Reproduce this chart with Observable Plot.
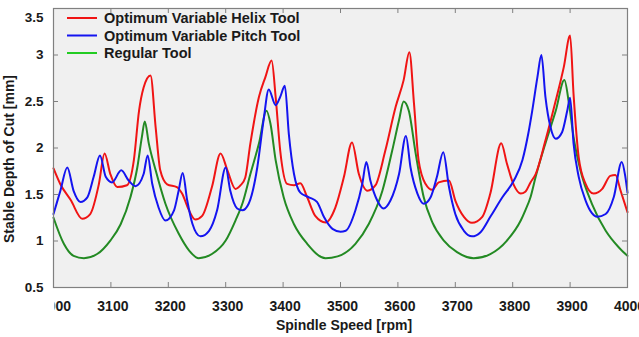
<!DOCTYPE html>
<html>
<head>
<meta charset="utf-8">
<script src="https://cdn.jsdelivr.net/npm/d3@7"></script>
<script src="https://cdn.jsdelivr.net/npm/@observablehq/plot@0.6"></script>
<style>
  html, body { margin: 0; padding: 0; background: #ffffff; }
  #chart { position: relative; width: 639px; height: 337px; }
</style>
</head>
<body>
<div id="chart"></div>
<script>
// Stability lobes: stable depth of cut versus spindle speed for three tools.
const helixRpm = [3000,3012,3030,3050,3064,3079,3089,3099,3111,3128,3140,3149,3157,3169,3178,3186,3198,3215,3224,3236,3247,3259,3276,3291,3303,3317,3326,3334,3343,3358,3369,3380,3387,3395,3407,3419,3430,3442,3456,3474,3491,3506,3520,3532,3547,3561,3578,3596,3610,3620,3628,3636,3648,3660,3671,3689,3700,3715,3729,3747,3761,3780,3790,3802,3814,3822,3831,3840,3857,3875,3889,3900,3906,3915,3927,3941,3956,3970,3979,3988,4000];
const helixDepth = [1.78,1.61,1.44,1.24,1.29,1.61,1.94,1.72,1.58,1.60,1.87,2.40,2.65,2.78,2.22,1.76,1.61,1.58,1.51,1.33,1.23,1.27,1.58,1.94,1.76,1.56,1.60,1.68,2.05,2.55,2.76,2.94,2.55,1.97,1.615,1.60,1.62,1.47,1.27,1.20,1.36,1.69,2.06,1.72,1.54,1.60,1.97,2.44,2.73,3.03,2.48,1.87,1.615,1.55,1.63,1.65,1.435,1.26,1.195,1.26,1.51,2.05,1.83,1.60,1.51,1.53,1.63,1.72,2.08,2.51,2.87,3.21,2.58,1.90,1.615,1.51,1.56,1.70,1.71,1.54,1.31];

const pitchRpm = [3000,3012,3024,3035,3047,3059,3070,3081,3091,3102,3118,3131,3143,3157,3164,3172,3183,3195,3210,3218,3225,3233,3242,3256,3271,3285,3300,3308,3320,3329,3340,3355,3366,3375,3387,3395,3403,3410,3419,3430,3445,3459,3471,3486,3500,3509,3526,3538,3545,3552,3564,3575,3587,3602,3614,3622,3634,3645,3657,3668,3679,3689,3700,3715,3729,3744,3761,3782,3802,3817,3827,3834,3843,3850,3857,3866,3875,3886,3895,3900,3906,3915,3927,3938,3947,3962,3976,3990,3996,4000];
const pitchDepth = [1.29,1.54,1.79,1.54,1.42,1.47,1.69,1.92,1.69,1.63,1.76,1.65,1.59,1.72,1.92,1.615,1.36,1.22,1.33,1.54,1.73,1.435,1.185,1.05,1.11,1.33,1.79,1.54,1.35,1.33,1.40,1.79,2.30,2.63,2.46,2.55,2.67,2.15,1.72,1.52,1.47,1.42,1.26,1.13,1.10,1.11,1.33,1.615,1.85,1.65,1.435,1.35,1.435,1.72,2.13,1.79,1.51,1.40,1.47,1.69,1.955,1.58,1.29,1.11,1.05,1.095,1.26,1.47,1.65,1.87,2.15,2.40,2.76,3.00,2.55,2.22,2.10,2.17,2.40,2.54,2.05,1.69,1.435,1.30,1.26,1.29,1.47,1.85,1.70,1.52];

const regularRpm = [3000,3018,3035,3053,3076,3099,3117,3134,3146,3154,3159,3166,3178,3195,3218,3236,3253,3276,3300,3317,3330,3343,3358,3371,3378,3387,3401,3419,3442,3474,3495,3526,3549,3573,3590,3602,3610,3619,3631,3645,3660,3680,3703,3732,3761,3790,3814,3822,3831,3840,3857,3875,3890,3898,3906,3918,3938,3962,3985,4000];
const regularDepth = [1.25,0.97,0.84,0.815,0.86,1.005,1.18,1.47,1.79,2.12,2.285,2.05,1.76,1.40,1.08,0.90,0.815,0.86,1.005,1.22,1.42,1.72,2.05,2.40,2.26,1.87,1.47,1.18,0.97,0.815,0.835,0.97,1.18,1.54,1.97,2.30,2.50,2.40,1.94,1.47,1.20,1.005,0.88,0.815,0.86,1.005,1.22,1.33,1.47,1.69,2.05,2.40,2.73,2.48,2.12,1.76,1.40,1.11,0.93,0.84];

const seriesNames = ["Optimum Variable Helix Tool", "Optimum Variable Pitch Tool", "Regular Tool"];
const xTicks = [3000,3100,3200,3300,3400,3500,3600,3700,3800,3900,4000];
const yTicks = [0.5,1,1.5,2,2.5,3,3.5];
const xTitle = "Spindle Speed [rpm]";
const yTitle = "Stable Depth of Cut [mm]";

const lineColors = ["#f01414", "#1414f0", "#238a23"];
const legendColors = ["#f01414", "#1414f0", "#22cc22"];

const toRows = (rpm, depth) => rpm.map((r, i) => ({rpm: r, depth: depth[i]}));
const helix = toRows(helixRpm, helixDepth);
const pitch = toRows(pitchRpm, pitchDepth);
const regular = toRows(regularRpm, regularDepth);

const W = 639, H = 337;
const mL = 53, mR = 12, mT = 8, mB = 50;
const innerW = W - mL - mR, innerH = H - mT - mB;
const axisGray = "#808080";
const textColor = "#1a1a1a";
const font = "'Liberation Sans', Arial, sans-serif";

const lineOpts = (color) => ({x: "rpm", y: "depth", stroke: color, strokeWidth: 2, curve: "monotone-x"});

const chart = Plot.plot({
  width: W,
  height: H,
  marginLeft: mL,
  marginRight: mR,
  marginTop: mT,
  marginBottom: mB,
  style: {fontFamily: font, fontWeight: "bold", fontSize: "14px", color: textColor, background: "#ffffff", overflow: "hidden"},
  x: {domain: [3000, 4000]},
  y: {domain: [0.5, 3.5]},
  marks: [
    Plot.frame({fill: "#f0f0f0", stroke: null}),
    Plot.line(regular, lineOpts(lineColors[2])),
    Plot.line(helix, lineOpts(lineColors[0])),
    Plot.line(pitch, lineOpts(lineColors[1])),
    Plot.frame({stroke: axisGray, strokeWidth: 1.2}),
    // inward ticks on all four sides
    Plot.ruleX(xTicks, {x: d => d, insetTop: innerH - 5, stroke: axisGray}),
    Plot.ruleX(xTicks, {x: d => d, insetBottom: innerH - 5, stroke: axisGray}),
    Plot.ruleY(yTicks, {y: d => d, insetRight: innerW - 5, stroke: axisGray}),
    Plot.ruleY(yTicks, {y: d => d, insetLeft: innerW - 5, stroke: axisGray}),
    Plot.axisX(xTicks, {
      tickSize: 0, tickPadding: 14, tickFormat: d => String(d), dx: 2,
      label: null, fontSize: 14
    }),
    Plot.axisY(yTicks, {
      tickSize: 0, tickPadding: 10, tickFormat: d => String(d),
      label: null, fontSize: 13.5
    })
  ]
});

document.getElementById("chart").appendChild(chart);

const svg = d3.select(chart);

// clip the x tick labels to the plot's horizontal extent
svg.append("defs").append("clipPath").attr("id", "xlabel-clip")
  .append("rect").attr("x", mL - 1).attr("y", 0).attr("width", W - mL + 1).attr("height", H);
svg.selectAll('g[aria-label="x-axis tick label"]').attr("clip-path", "url(#xlabel-clip)");

// keep the topmost y tick label inside the figure
svg.selectAll('g[aria-label="y-axis tick label"] text')
  .filter(function () { return this.textContent === String(yTicks[yTicks.length - 1]); })
  .attr("dy", "0.65em");

// axis titles
svg.append("text")
  .attr("x", 344).attr("y", 325).attr("dy", "0.36em")
  .attr("text-anchor", "middle").attr("font-family", font).attr("font-weight", "bold")
  .attr("font-size", 14).attr("fill", textColor).text(xTitle);
svg.append("text")
  .attr("transform", "translate(9,159) rotate(-90)").attr("dy", "0.36em")
  .attr("text-anchor", "middle").attr("font-family", font).attr("font-weight", "bold")
  .attr("font-size", 14).attr("fill", textColor).text(yTitle);

// legend in the upper-left corner of the plot
const legend = svg.append("g")
  .attr("font-family", font).attr("font-weight", "bold").attr("font-size", 14.5)
  .attr("text-anchor", "start");
seriesNames.forEach((name, i) => {
  const y = 18 + i * 17.5;
  legend.append("line")
    .attr("x1", 67).attr("x2", 97).attr("y1", y).attr("y2", y)
    .attr("stroke", legendColors[i]).attr("stroke-width", 2);
  legend.append("text")
    .attr("x", 104).attr("y", y).attr("dy", "0.36em")
    .attr("fill", textColor).text(name);
});
</script>
</body>
</html>
